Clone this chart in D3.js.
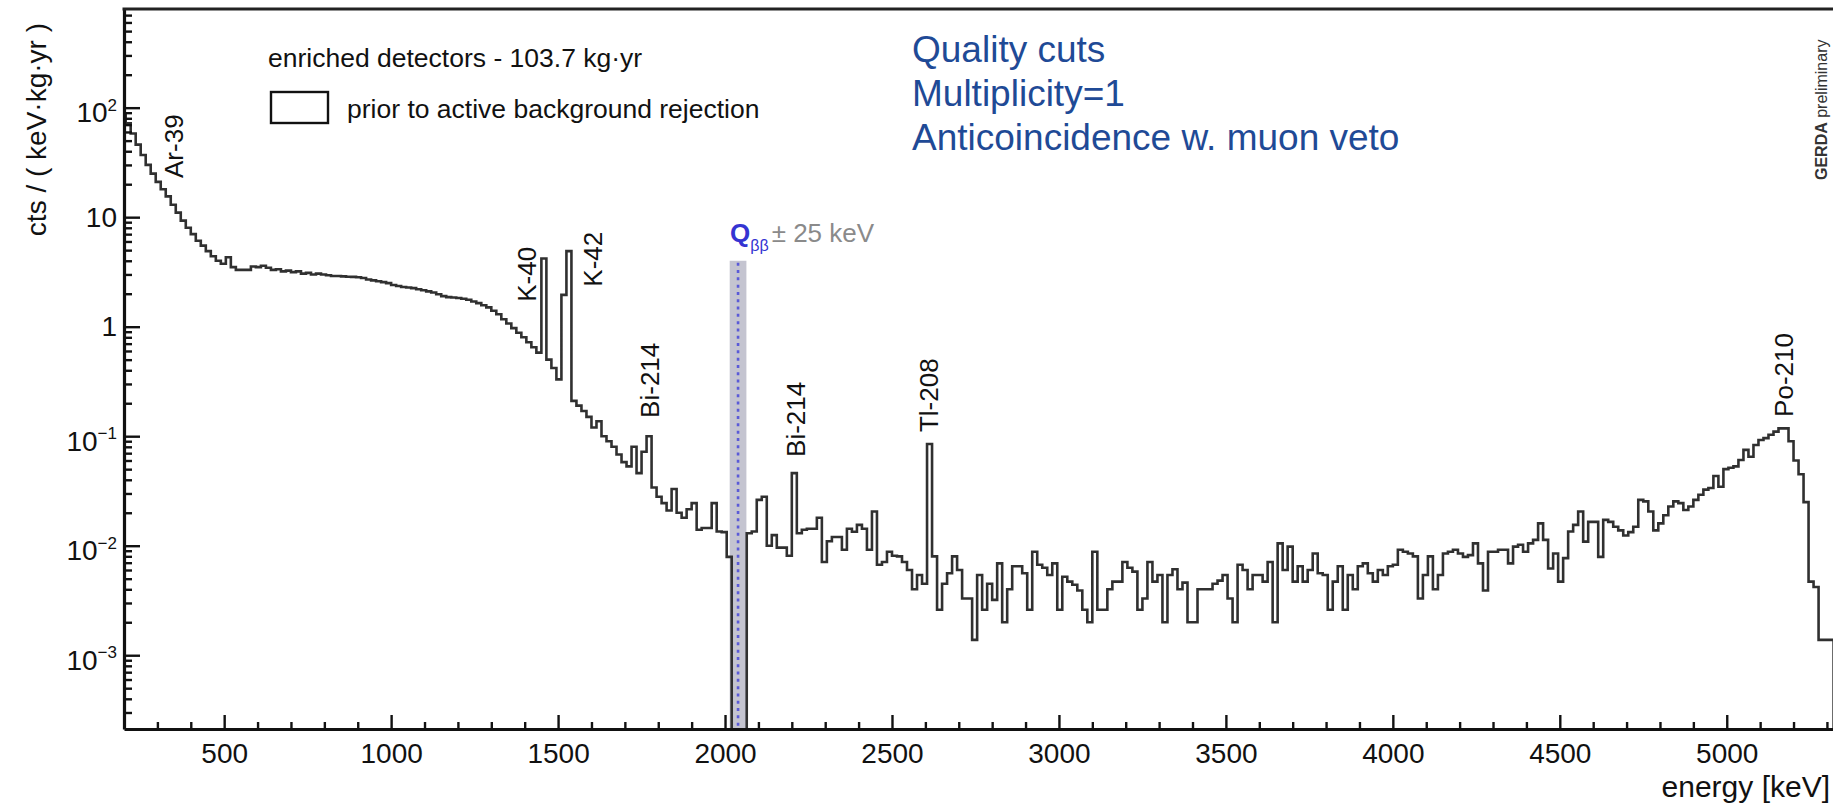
<!DOCTYPE html>
<html>
<head>
<meta charset="utf-8">
<script src="https://cdn.jsdelivr.net/npm/d3@7"></script>
<style>
  html, body { margin: 0; padding: 0; background: #ffffff; }
  svg { display: block; }
  text { font-family: "Liberation Sans", Arial, Helvetica, sans-serif; }
</style>
</head>
<body>
<svg id="chart" width="1833" height="809"></svg>
<script>
// ---- energy spectrum: 15 keV bins, rate in cts / (keV·kg·yr) ----
const binStart = 190;
const binWidth = 15;
const rate = [
  85, 72, 58, 46, 37, 30, 25, 21, 18, 15.5, 13, 11, 9.3, 8.0, 7.0,
  6.1, 5.5, 4.9, 4.4, 4.0, 3.75, 4.3, 3.5, 3.3, 3.3, 3.3, 3.55, 3.5, 3.6, 3.45,
  3.3, 3.35, 3.2, 3.25, 3.15, 3.2, 3.05, 3.1, 3.0, 3.05, 3.0, 2.95, 2.9, 2.9, 2.88,
  2.86, 2.85, 2.83, 2.78, 2.7, 2.65, 2.6, 2.55, 2.5, 2.4, 2.35, 2.3, 2.28, 2.25, 2.2,
  2.15, 2.1, 2.05, 1.98, 1.9, 1.86, 1.85, 1.83, 1.8, 1.76, 1.7, 1.64, 1.57, 1.5, 1.4,
  1.3, 1.17, 1.07, 0.97, 0.88, 0.8, 0.72, 0.65, 0.58, 4.2, 0.5, 0.42, 0.33, 1.95, 4.9,
  0.21, 0.19, 0.17, 0.15, 0.12, 0.137, 0.1, 0.09, 0.08, 0.068, 0.058, 0.053, 0.08, 0.046, 0.072,
  0.1, 0.034, 0.028, 0.0245, 0.021, 0.033, 0.02, 0.018, 0.0215, 0.0245, 0.014, 0.0145, 0.0145, 0.0245, 0.0135,
  0.0133, 0.0079, 0, 0, 0, 0.013, 0.0135, 0.0262, 0.028, 0.01, 0.0125, 0.0096, 0.0096, 0.0081, 0.046,
  0.013, 0.014, 0.0143, 0.0143, 0.018, 0.0071, 0.011, 0.012, 0.012, 0.0092, 0.0143, 0.0134, 0.0155, 0.0143, 0.0092,
  0.0205, 0.0067, 0.0071, 0.0088, 0.0081, 0.008, 0.0071, 0.006, 0.004, 0.0054, 0.0045, 0.085, 0.008, 0.0026, 0.0045,
  0.0056, 0.008, 0.006, 0.0033, 0.0033, 0.00138, 0.0054, 0.0026, 0.0045, 0.0032, 0.0069, 0.002, 0.004, 0.0065, 0.0065,
  0.0056, 0.0026, 0.0088, 0.0067, 0.0063, 0.0054, 0.0069, 0.0026, 0.0052, 0.0047, 0.0044, 0.0039, 0.0026, 0.002, 0.0088,
  0.0026, 0.0026, 0.004, 0.0047, 0.0047, 0.0071, 0.0063, 0.0058, 0.0026, 0.0033, 0.0071, 0.0047, 0.0054, 0.002, 0.0054,
  0.0061, 0.004, 0.0046, 0.002, 0.002, 0.004, 0.004, 0.004, 0.0045, 0.0048, 0.0054, 0.0033, 0.002, 0.0067, 0.006,
  0.004, 0.0054, 0.0054, 0.0047, 0.0071, 0.002, 0.0105, 0.006, 0.0098, 0.0047, 0.0065, 0.0047, 0.006, 0.0085, 0.0056,
  0.0054, 0.0026, 0.0047, 0.0065, 0.0026, 0.0054, 0.004, 0.0065, 0.0069, 0.0056, 0.0047, 0.006, 0.0054, 0.0065, 0.0067,
  0.0092, 0.0088, 0.0085, 0.008, 0.0033, 0.0054, 0.008, 0.004, 0.0054, 0.0085, 0.0088, 0.0092, 0.0085, 0.0079, 0.0082,
  0.0105, 0.0069, 0.0039, 0.0088, 0.0088, 0.0092, 0.0092, 0.0069, 0.0098, 0.0102, 0.0088, 0.0105, 0.0113, 0.016, 0.0113,
  0.0062, 0.0085, 0.0047, 0.0077, 0.0135, 0.0155, 0.0205, 0.0109, 0.0165, 0.0165, 0.0079, 0.0172, 0.0165, 0.0149, 0.0138,
  0.0124, 0.0133, 0.0149, 0.0262, 0.0254, 0.0205, 0.0138, 0.016, 0.019, 0.0228, 0.0254, 0.0245, 0.0212, 0.0228, 0.0262,
  0.0292, 0.0325, 0.0337, 0.0433, 0.0346, 0.05, 0.0515, 0.053, 0.0607, 0.075, 0.065, 0.083, 0.0924, 0.096, 0.103,
  0.11, 0.118, 0.118, 0.09, 0.06, 0.045, 0.025, 0.0047, 0.0042, 0.00138, 0.00138, 0.00138
];

// ---- axes ----
const energyRange = [200, 5320];
const rateRange = [2.12e-4, 796];
const xMajorTicks = [500, 1000, 1500, 2000, 2500, 3000, 3500, 4000, 4500, 5000];
const xMinorTicks = d3.range(300, 5320, 100).filter(e => e % 500 !== 0);
const yMajorTicks = [1e-3, 1e-2, 1e-1, 1, 10, 100];

// ---- line identifications ----
const peakNames = ["Ar-39", "K-40", "K-42", "Bi-214", "Bi-214", "Tl-208", "Po-210"];
const peakLabelEnergy = [377, 1434, 1631, 1802, 2240, 2638, 5198];
const peakLabelRate = [22.8, 1.69, 2.32, 0.147, 0.0647, 0.109, 0.15];

// ---- Q_bb window ----
const qbbEnergy = 2039;
const qbbHalfWidth = 25;
const qbbBandTop = 4;

// ---- texts ----
const legendTitle = "enriched detectors - 103.7 kg·yr";
const legendEntry = "prior to active background rejection";
const cutLines = ["Quality cuts", "Multiplicity=1", "Anticoincidence w. muon veto"];

const svg = d3.select("#chart");
const plot = { left: 124, top: 9, bottom: 729, right: 1833.6 };

const x = d3.scaleLinear().domain(energyRange).range([plot.left, plot.right]);
const y = d3.scaleLog().domain(rateRange).range([plot.bottom, plot.top]);

svg.append("rect").attr("width", 1833).attr("height", 809).attr("fill", "#ffffff");

svg.append("defs").append("clipPath").attr("id", "plotClip")
  .append("rect")
  .attr("x", plot.left).attr("y", plot.top)
  .attr("width", 1840 - plot.left).attr("height", plot.bottom - plot.top);

// Q_bb ± 25 keV band
svg.append("rect")
  .attr("x", x(qbbEnergy - qbbHalfWidth))
  .attr("width", x(qbbEnergy + qbbHalfWidth) - x(qbbEnergy - qbbHalfWidth))
  .attr("y", y(qbbBandTop))
  .attr("height", plot.bottom - y(qbbBandTop))
  .attr("fill", "#c4c4d0");

// histogram outline
const steps = rate.map((v, i) => ({ e: binStart + i * binWidth, v }));
steps.push({ e: binStart + rate.length * binWidth, v: 0 });
const histLine = d3.line()
  .x(d => x(d.e))
  .y(d => d.v > 0 ? y(d.v) : plot.bottom + 40)
  .curve(d3.curveStepAfter);

svg.append("path")
  .datum(steps)
  .attr("clip-path", "url(#plotClip)")
  .attr("d", histLine)
  .attr("fill", "none")
  .attr("stroke", "#303030")
  .attr("stroke-width", 2.6)
  .attr("stroke-linejoin", "miter");

// dashed Q_bb line
svg.append("line")
  .attr("x1", x(qbbEnergy)).attr("x2", x(qbbEnergy))
  .attr("y1", y(qbbBandTop) + 2).attr("y2", plot.bottom)
  .attr("stroke", "#5a5ad8")
  .attr("stroke-width", 2.6)
  .attr("stroke-dasharray", "3 4.3");

// x axis
const gxMinor = svg.append("g")
  .attr("transform", `translate(0,${plot.bottom})`)
  .call(d3.axisBottom(x).tickValues(xMinorTicks).tickSize(-7).tickSizeOuter(0).tickFormat(""));
gxMinor.select(".domain").remove();

const gx = svg.append("g")
  .attr("transform", `translate(0,${plot.bottom})`)
  .call(d3.axisBottom(x).tickValues(xMajorTicks).tickSize(-14).tickSizeOuter(0)
        .tickPadding(14).tickFormat(d3.format("d")));

// y axis
const yMinorTicks = [];
for (let d = -4; d <= 2; d++) {
  for (let m = 2; m <= 9; m++) {
    const v = m * Math.pow(10, d);
    if (v > rateRange[0] && v < rateRange[1]) yMinorTicks.push(v);
  }
}
const gyMinor = svg.append("g")
  .attr("transform", `translate(${plot.left},0)`)
  .call(d3.axisLeft(y).tickValues(yMinorTicks).tickSize(-8).tickSizeOuter(0).tickFormat(""));
gyMinor.select(".domain").remove();

const gy = svg.append("g")
  .attr("transform", `translate(${plot.left},0)`)
  .call(d3.axisLeft(y).tickValues(yMajorTicks).tickSize(-16).tickSizeOuter(0).tickPadding(7));

gy.selectAll(".tick text").each(function(d) {
  const t = d3.select(this);
  const k = Math.round(Math.log10(d));
  t.text(null);
  if (k === 0 || k === 1) {
    t.text(k === 0 ? "1" : "10");
  } else {
    t.attr("dy", "0.5em");
    t.append("tspan").text("10");
    t.append("tspan")
      .attr("font-size", 17)
      .attr("dy", -11.5)
      .text(k < 0 ? "\u2212" + (-k) : String(k));
  }
});

[gx, gy].forEach(g => {
  g.selectAll("text").attr("font-size", 28).attr("fill", "#111");
});
[gx, gy, gxMinor, gyMinor].forEach(g => {
  g.selectAll(".tick line").attr("stroke", "#111").attr("stroke-width", 2.4);
});
[gx, gy].forEach(g => {
  g.select(".domain").attr("stroke", "#111").attr("stroke-width", 3.2);
});

// top frame
svg.append("line")
  .attr("x1", plot.left - 1.5).attr("x2", 1840)
  .attr("y1", plot.top).attr("y2", plot.top)
  .attr("stroke", "#222").attr("stroke-width", 3);

// axis titles
svg.append("text")
  .attr("transform", "translate(46,23) rotate(-90)")
  .attr("text-anchor", "end")
  .attr("font-size", 28)
  .attr("fill", "#111")
  .text("cts / ( keV·kg·yr )");

svg.append("text")
  .attr("x", 1830).attr("y", 797)
  .attr("text-anchor", "end")
  .attr("font-size", 30)
  .attr("fill", "#111")
  .text("energy [keV]");

// legend
svg.append("text")
  .attr("x", 268).attr("y", 67)
  .attr("font-size", 26.5)
  .attr("fill", "#111")
  .text(legendTitle);
svg.append("rect")
  .attr("x", 271).attr("y", 92).attr("width", 57).attr("height", 31)
  .attr("fill", "none").attr("stroke", "#111").attr("stroke-width", 2.4);
svg.append("text")
  .attr("x", 347).attr("y", 118)
  .attr("font-size", 26.5)
  .attr("fill", "#111")
  .text(legendEntry);

// selection cuts
svg.append("g").selectAll("text")
  .data(cutLines)
  .join("text")
  .attr("x", 912)
  .attr("y", (d, i) => 62 + i * 44)
  .attr("font-size", 37)
  .attr("fill", "#1f4a96")
  .text(d => d);

// Q_bb label
const qLabel = svg.append("text")
  .attr("x", 730).attr("y", 242)
  .attr("font-size", 26);
qLabel.append("tspan").attr("font-weight", "bold").attr("fill", "#3434d2").text("Q");
qLabel.append("tspan").attr("font-size", 16).attr("dy", 9).attr("fill", "#3434d2").text("ββ");
qLabel.append("tspan").attr("dy", -9).attr("dx", 3).attr("fill", "#8a8a8a").text("\u00b1 25 keV");

// peak identifications
svg.append("g").selectAll("text")
  .data(peakNames.map((name, i) => ({ name, e: peakLabelEnergy[i], v: peakLabelRate[i] })))
  .join("text")
  .attr("transform", d => `translate(${x(d.e)},${y(d.v)}) rotate(-90)`)
  .attr("font-size", 26)
  .attr("fill", "#111")
  .text(d => d.name);

// watermark
const wm = svg.append("text")
  .attr("transform", "translate(1827,180) rotate(-90)")
  .attr("font-size", 16)
  .attr("fill", "#333");
wm.append("tspan").attr("font-weight", "bold").text("GERDA");
wm.append("tspan").text(" preliminary");
</script>
</body>
</html>
